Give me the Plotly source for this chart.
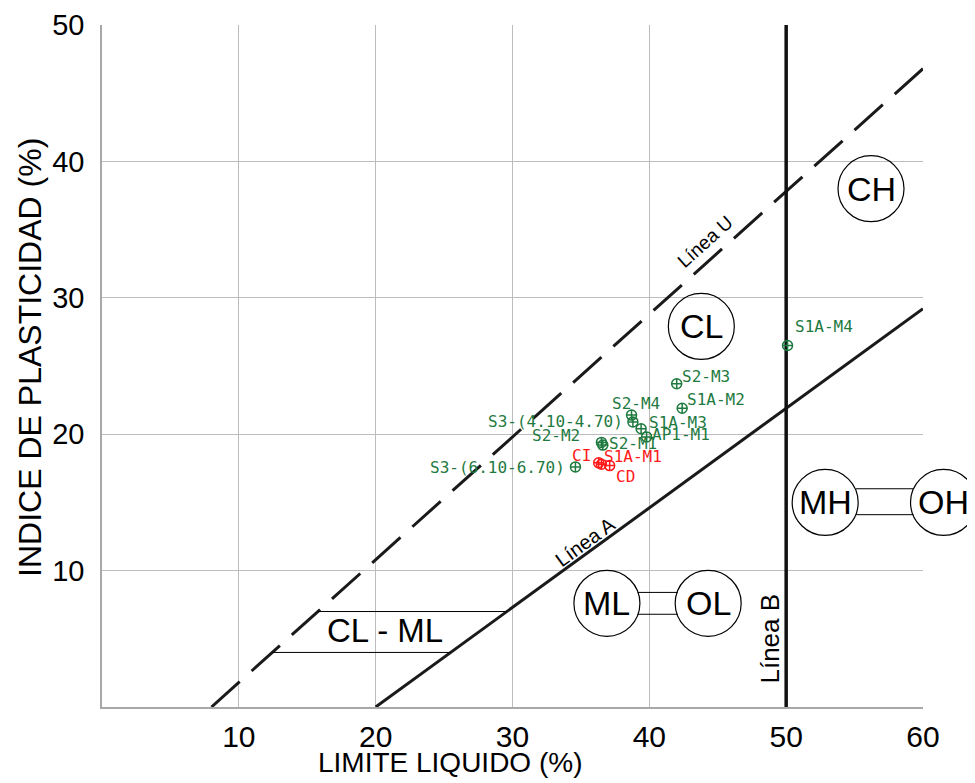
import plotly.graph_objects as go

# Casagrande plasticity chart: liquid limit (x) vs plasticity index (y)

# data points (green)
names = ["S2-M3", "S1A-M2", "S2-M4", "S3-(4.10-4.70)", "S1A-M3", "AP1-M1",
         "S2-M2", "S2-M1", "S3-(6.10-6.70)", "S1A-M4"]
ll = [42.0, 42.4, 38.7, 38.8, 39.4, 39.8, 36.5, 36.6, 34.6, 50.1]
pi = [23.7, 21.9, 21.4, 20.9, 20.4, 19.8, 19.4, 19.2, 17.6, 26.5]

# data points (red)
names_r = ["CI", "S1A-M1", "CD"]
ll_r = [36.3, 36.5, 37.1]
pi_r = [17.9, 17.8, 17.7]

# label placement (anchor, x offset px, y offset px) -- style only
lab_style = {
    "S2-M3": ("left", 3, 7), "S1A-M2": ("left", 3, 9), "S2-M4": ("center", 4, 12),
    "S3-(4.10-4.70)": ("right", -8, 0), "S1A-M3": ("left", 6, 6),
    "AP1-M1": ("left", 3, 2), "S2-M2": ("right", -19, 7), "S2-M1": ("left", 4, 2),
    "S3-(6.10-6.70)": ("right", -8, -1), "S1A-M4": ("left", 5, 19),
    "CI": ("right", -6, 7), "S1A-M1": ("left", 1, 8), "CD": ("left", 4, -11),
}

# reference lines
lineA_ll = [20, 60]
lineA_pi = [0, 29.2]
lineU_ll = [60, 8]
lineU_pi = [46.8, 0]
lineB_ll = [50, 50]
lineB_pi = [0, 50]
clml_ll = [15.78, 29.59, None, 12.44, 25.48]
clml_pi = [7, 7, None, 4, 4]

# soil group circles
groups = ["CL", "CH", "ML", "OL", "MH", "OH"]
grp_ll = [43.8, 56.2, 36.9, 44.3, 52.85, 61.5]
grp_pi = [27.9, 38.0, 7.6, 7.6, 15.0, 15.0]
link_ll = [39.15, 42.07, None, 39.15, 42.07, None, 55.1, 59.3, None, 55.1, 59.3]
link_pi = [8.4, 8.4, None, 6.8, 6.8, None, 16.0, 16.0, None, 14.1, 14.1]

LL_MAX, PI_MAX = 60, 50

green = "#1f7a3f"
red = "#ff1a1a"
sans = "Liberation Sans, Arial, sans-serif"
mono = "DejaVu Sans Mono, monospace"

fig = go.Figure()

fig.add_trace(go.Scatter(x=lineA_ll, y=lineA_pi, mode="lines",
                         line=dict(color="#1a1a1a", width=3)))
fig.add_trace(go.Scatter(x=lineU_ll, y=lineU_pi, mode="lines",
                         line=dict(color="#1a1a1a", width=3, dash="38px,16px")))
fig.add_trace(go.Scatter(x=lineB_ll, y=lineB_pi, mode="lines",
                         line=dict(color="#111111", width=3.5)))
fig.add_trace(go.Scatter(x=clml_ll, y=clml_pi, mode="lines",
                         line=dict(color="black", width=1)))
fig.add_trace(go.Scatter(x=link_ll, y=link_pi, mode="lines",
                         line=dict(color="black", width=1)))

# group circles: drawn in paper space so the one past LL=60 is not clipped
r_x, r_y = 0.0402, 0.0484
for g, gx, gy in zip(groups, grp_ll, grp_pi):
    px_, py_ = gx / LL_MAX, gy / PI_MAX
    fig.add_shape(type="circle", xref="paper", yref="paper",
                  x0=px_ - r_x, x1=px_ + r_x, y0=py_ - r_y, y1=py_ + r_y,
                  line=dict(color="black", width=1.2))
    fig.add_annotation(xref="paper", yref="paper", x=px_, y=py_, text=g,
                       showarrow=False, xanchor="center", yanchor="middle",
                       font=dict(family=sans, size=34, color="black"))

fig.add_trace(go.Scatter(
    x=ll, y=pi, mode="markers",
    marker=dict(symbol="circle-cross-open", size=10, color=green, line=dict(width=1.5))))
fig.add_trace(go.Scatter(
    x=ll_r, y=pi_r, mode="markers",
    marker=dict(symbol="circle-cross-open", size=10, color=red, line=dict(width=1.5))))

for lab_names, xs, ys, col in [(names, ll, pi, green), (names_r, ll_r, pi_r, red)]:
    for n, x, y in zip(lab_names, xs, ys):
        anchor, dx, dy = lab_style[n]
        fig.add_annotation(x=x, y=y, text=n, showarrow=False,
                           xanchor=anchor, yanchor="middle", xshift=dx, yshift=dy,
                           font=dict(family=mono, size=16, color=col))

fig.add_annotation(x=20.7, y=5.6, text="CL - ML", showarrow=False,
                   font=dict(family=sans, size=33, color="black"))
fig.add_annotation(x=35.3, y=12.1, text="Línea A", showarrow=False, textangle=-36,
                   font=dict(family=sans, size=20, color="black"))
fig.add_annotation(x=44.1, y=34.1, text="Línea U", showarrow=False, textangle=-42,
                   font=dict(family=sans, size=19, color="black"))
fig.add_annotation(x=48.8, y=5.0, text="Línea B", showarrow=False, textangle=-90,
                   font=dict(family=sans, size=26, color="black"))

# axis titles
fig.add_annotation(xref="paper", yref="paper", x=0.424, y=-0.082,
                   xanchor="center", yanchor="middle",
                   text="LIMITE LIQUIDO (%)", showarrow=False,
                   font=dict(family=sans, size=28, color="black"))
fig.add_annotation(xref="paper", yref="paper", x=-0.088, y=0.513, textangle=-90,
                   xanchor="center", yanchor="middle",
                   text="INDICE DE PLASTICIDAD (%)", showarrow=False,
                   font=dict(family=sans, size=32, color="black"))

fig.update_xaxes(range=[0, LL_MAX], tickvals=[10, 20, 30, 40, 50, 60],
                 showgrid=True, gridcolor="#bdbdbd", gridwidth=1,
                 showline=True, linecolor="#a8a8a8", linewidth=1.5,
                 zeroline=False, ticks="", ticklabelstandoff=2, automargin=False,
                 tickfont=dict(family=sans, size=30, color="black"))
fig.update_yaxes(range=[0, PI_MAX], tickvals=[10, 20, 30, 40, 50],
                 showgrid=True, gridcolor="#bdbdbd", gridwidth=1,
                 showline=True, linecolor="#a8a8a8", linewidth=1.5,
                 zeroline=False, ticks="", ticklabelstandoff=10, automargin=False,
                 tickfont=dict(family=sans, size=29, color="black"))

# the page body adds an 8px offset, so the margins are shifted to compensate
fig.update_layout(width=975, height=783, showlegend=False,
                  plot_bgcolor="white", paper_bgcolor="white",
                  margin=dict(l=94, r=60, t=17, b=84))

fig.write_html("out.html")
